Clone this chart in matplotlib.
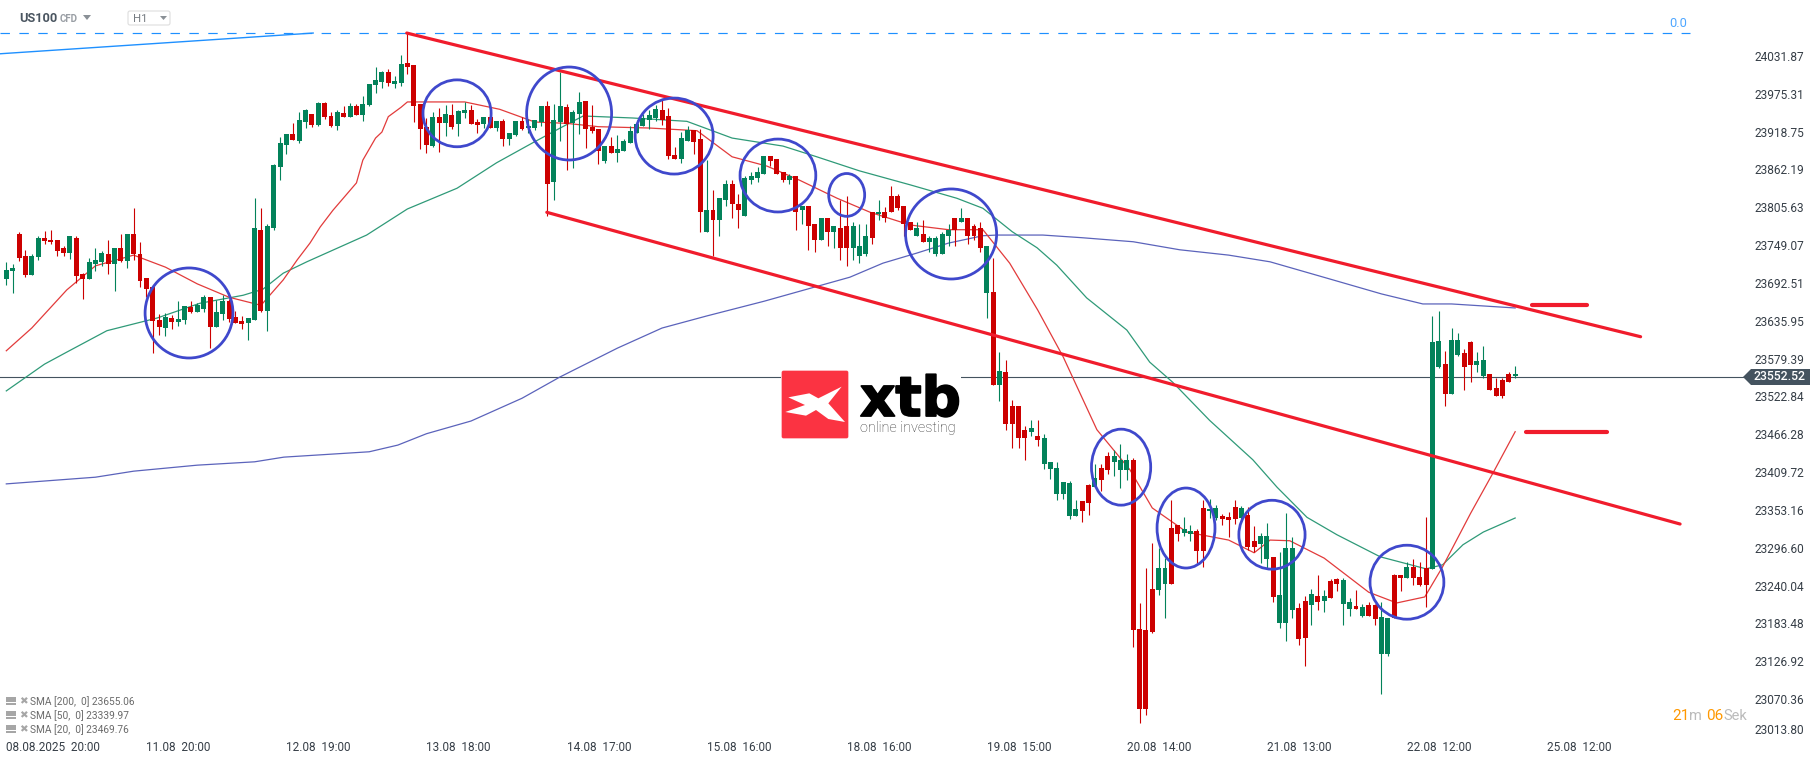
import matplotlib
matplotlib.use("Agg")
import numpy as np
import matplotlib.pyplot as plt
import matplotlib.patheffects as pe
from matplotlib.patches import Ellipse, Polygon, Rectangle, FancyBboxPatch
from matplotlib.transforms import Affine2D

plt.rcParams["font.family"] = ["Roboto", "DejaVu Sans"]

# one char per hourly bar, G = up candle, R = down candle
bar_colours = ("GGRRGGRRRRGRRGGGRGRGRRRRRGRGGRGGRGGRRRGGRGGGGRGGRGRRGRGRGGGGRGGRR"
               "RRGRGRGGRRGRGRGGRGGGRGGRGGRRRGRGGGGGGGRRRGGRRGRGGRRGGGGRRRGRGRRGRGRR"
               "GGGRGRRRRRGRGGGGRGRRRGRGRRRRGRGGGGGGRRGRRGGGRRRRGGRRGGRRGGRRRGRRGGRGGGRRGRGRRGGRGRRGGRRGRRRGGR")

highs = [23723,23720,23768,23741,23736,23762,23770,23772,23757,23748,
         23762,23763,23707,23730,23744,23740,23756,23745,23766,23765,
         23804,23753,23700,23688,23646,23648,23645,23666,23658,23666,
         23663,23675,23672,23667,23675,23669,23651,23643,23640,23820,
         23805,23781,23870,23910,23915,23931,23948,23952,23945,23963,
         23963,23948,23951,23957,23961,23960,23972,23990,24015,24009,
         24012,24002,24033,24066,24018,23960,23939,23948,23954,23958,
         23960,23951,23963,23958,23937,23940,23940,23934,23937,23916,
         23934,23940,23937,23936,23957,23964,23960,24008,23960,23951,
         23978,23964,23958,23922,23897,23910,23913,23907,23927,23936,
         23945,23951,23958,23966,23954,23895,23918,23927,23921,23922,
         23876,23832,23819,23846,23846,23826,23852,23859,23865,23882,
         23882,23877,23859,23856,23853,23807,23807,23780,23790,23790,
         23777,23817,23823,23783,23780,23781,23798,23817,23806,23838,
         23825,23808,23784,23784,23786,23763,23763,23768,23780,23789,
         23805,23790,23780,23783,23747,23729,23589,23577,23518,23509,
         23478,23488,23487,23467,23425,23425,23395,23397,23368,23367,
         23392,23422,23422,23440,23442,23452,23437,23431,23214,23266,
         23304,23296,23281,23368,23331,23343,23331,23325,23368,23370,
         23361,23347,23350,23368,23359,23358,23329,23319,23334,23283,
         23290,23349,23313,23214,23224,23235,23256,23233,23250,23251,
         23251,23221,23233,23212,23215,23212,23215,23191,23257,23256,
         23275,23279,23275,23343,23643,23650,23590,23625,23617,23593,
         23605,23589,23598,23557,23550,23551,23559,23568]

body_tops = [23712,23714,23765,23733,23733,23759,23759,23757,23756,23744,
             23762,23760,23706,23723,23726,23737,23736,23745,23745,23765,
             23765,23736,23700,23687,23637,23642,23640,23639,23658,23657,
             23660,23672,23672,23649,23666,23666,23642,23636,23640,23774,
             23772,23777,23868,23901,23915,23915,23936,23951,23945,23961,
             23961,23942,23948,23946,23957,23957,23960,23990,23996,24008,
             24008,23994,24020,24021,24018,23960,23925,23940,23940,23945,
             23943,23949,23951,23951,23933,23940,23940,23934,23934,23916,
             23934,23934,23927,23936,23957,23957,23936,23957,23955,23948,
             23963,23964,23925,23922,23897,23897,23892,23904,23919,23930,
             23939,23943,23952,23951,23942,23883,23909,23921,23921,23907,
             23801,23801,23819,23840,23841,23811,23849,23852,23858,23882,
             23882,23877,23859,23853,23853,23807,23807,23780,23789,23789,
             23777,23775,23778,23778,23748,23762,23798,23799,23798,23823,
             23823,23808,23784,23774,23766,23760,23760,23765,23772,23789,
             23789,23790,23777,23775,23747,23679,23561,23559,23508,23509,
             23473,23476,23464,23460,23425,23416,23395,23394,23355,23367,
             23391,23401,23416,23434,23434,23427,23428,23428,23175,23173,
             23235,23266,23266,23326,23331,23325,23322,23322,23356,23355,
             23356,23344,23343,23358,23356,23346,23307,23314,23314,23283,
             23226,23296,23296,23206,23217,23227,23224,23224,23247,23250,
             23248,23215,23209,23208,23211,23211,23193,23191,23256,23256,
             23268,23268,23253,23266,23604,23605,23571,23607,23607,23587,
             23604,23575,23577,23557,23536,23548,23556,23556]

body_bottoms = [23698,23710,23730,23705,23705,23731,23755,23753,23740,23737,
                23737,23703,23699,23698,23720,23723,23720,23720,23725,23725,
                23735,23696,23684,23636,23627,23625,23634,23634,23637,23649,
                23649,23654,23627,23627,23646,23639,23633,23631,23633,23637,
                23651,23651,23774,23865,23898,23906,23904,23933,23928,23928,
                23940,23927,23927,23940,23940,23943,23943,23958,23988,23993,
                23991,23990,23991,24015,23957,23922,23898,23897,23931,23931,
                23925,23930,23946,23930,23928,23930,23924,23924,23907,23907,
                23913,23922,23924,23924,23933,23841,23843,23933,23930,23931,
                23945,23922,23919,23889,23874,23886,23886,23889,23901,23916,
                23927,23936,23939,23936,23882,23877,23877,23904,23903,23799,
                23769,23786,23786,23816,23810,23802,23793,23846,23849,23855,
                23874,23855,23847,23847,23799,23801,23777,23757,23756,23768,
                23768,23745,23745,23745,23733,23735,23760,23795,23789,23799,
                23804,23780,23771,23763,23753,23753,23735,23735,23763,23771,
                23784,23763,23763,23744,23678,23540,23540,23481,23482,23461,
                23461,23470,23457,23422,23415,23377,23377,23344,23344,23352,
                23364,23388,23398,23413,23424,23413,23413,23173,23056,23056,
                23170,23233,23242,23242,23317,23319,23317,23292,23292,23352,
                23341,23340,23338,23340,23341,23298,23298,23302,23280,23223,
                23184,23184,23203,23160,23161,23211,23215,23217,23221,23242,
                23212,23205,23205,23194,23194,23190,23137,23137,23191,23251,
                23251,23251,23241,23241,23265,23566,23527,23526,23584,23566,
                23569,23569,23554,23533,23523,23523,23545,23553]

lows = [23690,23677,23725,23701,23705,23726,23750,23750,23733,23733,
        23728,23693,23668,23698,23710,23718,23706,23681,23723,23714,
        23726,23687,23671,23587,23615,23613,23624,23628,23631,23648,
        23649,23649,23595,23627,23637,23634,23633,23624,23607,23637,
        23649,23621,23772,23846,23885,23906,23901,23924,23925,23927,
        23937,23925,23921,23940,23940,23943,23934,23957,23976,23984,
        23987,23984,23987,24005,23933,23892,23886,23895,23888,23912,
        23922,23912,23939,23930,23916,23924,23924,23919,23897,23898,
        23912,23921,23916,23921,23927,23792,23816,23904,23862,23864,
        23915,23894,23916,23870,23871,23886,23873,23889,23901,23916,
        23927,23922,23934,23928,23877,23877,23871,23904,23885,23769,
        23769,23733,23763,23808,23790,23775,23793,23840,23844,23855,
        23867,23855,23844,23841,23771,23780,23742,23739,23756,23747,
        23745,23727,23718,23727,23722,23733,23750,23786,23784,23799,
        23802,23763,23771,23763,23753,23739,23732,23735,23748,23747,
        23783,23751,23756,23739,23640,23540,23516,23472,23446,23446,
        23427,23464,23449,23415,23400,23368,23370,23340,23344,23335,
        23346,23388,23382,23407,23404,23386,23398,23148,23035,23047,
        23169,23226,23191,23242,23307,23314,23307,23274,23268,23341,
        23338,23331,23313,23332,23338,23293,23290,23274,23266,23215,
        23176,23157,23191,23151,23119,23181,23203,23200,23221,23232,
        23181,23194,23205,23193,23194,23181,23078,23134,23191,23232,
        23251,23241,23239,23208,23265,23565,23508,23526,23583,23532,
        23545,23560,23550,23533,23523,23521,23544,23550]

sma20_bar = [0,4,9.5,14,20,25,30,35,40,43.5,45.7,47.7,49.3,51.3,55,56,58,59,60,62,63,66,72,77.5,83,88,93,101,108.5,114,
             119.5,124.6,130.5,135.7,142,148,153.4,157.6,162,166,171.3,176.5,180,185.4,192,196,198.5,201.6,207,214,
             218.4,222.8,225.6,230,233.5,237]
sma20 = [23591,23625,23682,23718,23734,23716,23691,23671,23659,23697,23727,23752,23776,23801,23842,23876,23909,23918,
         23941,23955,23963,23963,23963,23952,23933,23931,23926,23924,23920,23881,23867,23846,23819,23798,23779,23772,
         23772,23722,23652,23582,23473,23413,23356,23320,23308,23289,23308,23307,23281,23230,23214,23223,23268,23348,
         23408,23470]

sma50_bar = [0,3.3,6,9.5,15.8,23.7,30.4,37.2,40.3,43.5,47.2,56.6,63,70.8,77,82.7,87,90.6,98.4,106.9,114,122,127.3,
             134,142,149.3,153.4,158,161.9,165,169.7,176,179.6,183.2,189,195.8,199.6,204.3,209,215.8,223,225.6,228.8,232,237]
sma50 = [23531,23553,23571,23589,23621,23640,23662,23674,23683,23707,23724,23764,23803,23834,23872,23902,23924,23942,
         23939,23934,23909,23897,23881,23860,23839,23819,23804,23769,23745,23719,23670,23622,23574,23544,23487,23428,
         23387,23342,23316,23283,23265,23271,23301,23320,23341]

sma200_bar = [0,14,20,30,39,43.6,57,61.5,66,73,81,87,96,103,110,119,132.5,137.7,143,148,153.4,155.6,162.8,169,177,
              184.3,192,198.5,208,216,222.5,227,237]
sma200 = [23392,23402,23411,23420,23425,23432,23440,23450,23467,23486,23520,23552,23595,23625,23643,23665,23701,23722,
          23737,23752,23763,23764,23764,23760,23754,23742,23734,23724,23698,23676,23661,23661,23655]

# hand drawn channel lines, [start bar, end bar], [start price, end price]
upper_channel = ([62.9, 256.7], [24066, 23612])
lower_channel = ([84.9, 262.9], [23798, 23332])
resistance_mark = ([239.6, 248.3], [23659, 23659])
support_mark = ([238.7, 251.4], [23470, 23470])
fib_line = ([-1, 48.2], [24035, 24066])
fib_level = 24066
last_price = 23552.52

# blue circles on the chart
circle_bar = [28.7, 70.8, 88.4, 104.9, 121.2, 132, 148.4, 175.1, 185.3, 198.8, 220]
circle_price = [23647.5, 23946, 23945.7, 23912, 23853, 23824, 23765.6, 23417, 23326, 23316, 23245]
circle_w = [13.8, 10.7, 13.35, 12.25, 11.9, 5.65, 14.3, 9.3, 9.1, 10.4, 11.6]
circle_h = [134.6, 100, 139, 113.6, 109, 64, 134.6, 113.6, 119.6, 103, 110.6]

price_ticks = [24031.87,23975.31,23918.75,23862.19,23805.63,23749.07,23692.51,23635.95,23579.39,23522.84,
               23466.28,23409.72,23353.16,23296.60,23240.04,23183.48,23126.92,23070.36,23013.80]
time_ticks = [0, 22, 44, 66, 88, 110, 132, 154, 176, 198, 220, 242]
time_labels = ["08.08.2025  20:00", "11.08  20:00", "12.08  19:00", "13.08  18:00", "14.08  17:00", "15.08  16:00",
               "18.08  16:00", "19.08  15:00", "20.08  14:00", "21.08  13:00", "22.08  12:00", "25.08  12:00"]
sma_legend = ["SMA [200,  0] 23655.06", "SMA [50,  0] 23339.97", "SMA [20,  0] 23469.76"]

GREEN = "#03825a"
RED = "#cc0000"
TREND = "#f01c2c"
CIRCLE = "#3f48cc"
LINE = "#44535f"
TEXT = "#363e47"

fig = plt.figure(figsize=(18.15, 7.61), dpi=100)
ax = fig.add_axes([0, 24 / 761, 1745 / 1815, 737 / 761])
ax.set_xlim(-0.99, 273.1)
ax.set_ylim(23013.6, 24115.4)
for s in ax.spines.values():
    s.set_visible(False)

# pixel coordinates from the top left corner, for the widgets around the plot
px = Affine2D().scale(1, -1).translate(0, 761)

bars = np.arange(len(highs))
cols = [GREEN if c == "G" else RED for c in bar_colours]
tops = np.array(body_tops)
bottoms = np.array(body_bottoms)

ax.axhline(last_price, color=LINE, lw=0.8, zorder=1)
ax.plot([-0.99, 264.5], [fib_level, fib_level], color="#1e90ff", lw=0.85, linestyle=(0, (8, 8)), zorder=1)
ax.plot(*fib_line, color="#1e90ff", lw=1.0, zorder=1)
ax.text(264, fib_level + 4, "0.0", color="#4da6ff", fontsize=9.2, ha="right", va="bottom")

ax.plot(sma200_bar, sma200, color="#5b63bb", lw=0.9, zorder=2)
ax.plot(sma50_bar, sma50, color="#2f9a78", lw=0.9, zorder=2)
ax.plot(sma20_bar, sma20, color="#e23b3b", lw=0.9, zorder=2)

ax.vlines(bars, lows, highs, colors=cols, lw=0.8, zorder=3)
ax.bar(bars, tops - bottoms, bottom=bottoms, width=0.78, color=cols, linewidth=0, zorder=3)

for line in (upper_channel, lower_channel):
    ax.plot(*line, color=TREND, lw=2.3, solid_capstyle="round", zorder=4)
for line in (resistance_mark, support_mark):
    ax.plot(*line, color=TREND, lw=3.0, solid_capstyle="round", zorder=4)

for b, p, w, h in zip(circle_bar, circle_price, circle_w, circle_h):
    ax.add_patch(Ellipse((b, p), w, h, fill=False, edgecolor=CIRCLE, lw=2.0, zorder=5))

# axes
ax.yaxis.tick_right()
ax.set_yticks(price_ticks)
ax.set_yticklabels([f"{p:.2f}" for p in price_ticks])
ax.tick_params(axis="y", length=0, pad=7, labelsize=8.6, labelcolor=TEXT)
ax.get_yticklabels()[-1].set_verticalalignment("bottom")
ax.set_xticks(time_ticks)
ax.set_xticklabels(time_labels, ha="left")
ax.tick_params(axis="x", length=0, pad=3, labelsize=8.5, labelcolor=TEXT)

# last price flag
fig.add_artist(Polygon([(1743, 377), (1751, 369), (1810, 369), (1810, 385), (1751, 385)], closed=True,
                       facecolor=LINE, edgecolor="none", transform=px))
fig.text(1754, 377, f"{last_price:.2f}", transform=px, color="white", fontsize=8.8, fontweight="medium",
         ha="left", va="center")

# logo, white box hides the price line
fig.add_artist(Rectangle((781, 362), 180, 80, facecolor="white", edgecolor="none", transform=px))
fig.add_artist(FancyBboxPatch((782, 371), 66, 67, boxstyle="round,pad=0,rounding_size=1.5", facecolor="#fb3342",
                              edgecolor="#fb3342", lw=0.5, transform=px))
swoosh = [(85, 142), (148, 130), (175, 145), (245, 110), (205, 160), (255, 216), (205, 207), (168, 180), (138, 197),
          (76, 186), (135, 165)]
fig.add_artist(Polygon([(760 + a / 3, 350 + b / 3) for a, b in swoosh], closed=True, facecolor="white",
                       edgecolor="none", transform=px))
fig.text(860, 416, "xtb", transform=px, color="black", fontsize=39.5, fontweight="bold", family="DejaVu Sans",
         ha="left", va="baseline", path_effects=[pe.withStroke(linewidth=1.3, foreground="black")])
fig.text(860.5, 432, "online investing", transform=px, color="#333333", fontsize=10.4, fontweight="light",
         ha="left", va="baseline")

# top left instrument selector
fig.text(19, 18.5, "US100", transform=px, color="#4a5560", fontsize=9.2, fontweight="bold", va="center")
fig.text(60, 19.5, "CFD", transform=px, color="#9a9fa5", fontsize=7, fontweight="bold", va="center")
fig.add_artist(Polygon([(83, 15), (91, 15), (87, 20)], closed=True, facecolor="#8a9096", edgecolor="none", transform=px))
fig.add_artist(FancyBboxPatch((128, 11), 42, 14, boxstyle="round,pad=0,rounding_size=2", facecolor="white",
                              edgecolor="#dddddd", lw=0.8, transform=px))
fig.text(133, 19.5, "H1", transform=px, color="#767c82", fontsize=8.2, va="center")
fig.add_artist(Polygon([(160, 16), (167, 16), (163.5, 20)], closed=True, facecolor="#8a9096", edgecolor="none", transform=px))

# indicator legend, bottom left
for y, label in zip([701.5, 715.5, 729.5], sma_legend):
    fig.add_artist(Rectangle((6, y - 5), 10, 5, facecolor="#a6a6a6", edgecolor="none", transform=px))
    fig.add_artist(Rectangle((6, y + 1), 10, 2, facecolor="#a6a6a6", edgecolor="none", transform=px))
    fig.text(23.5, y, "\u2716", transform=px, color="#a6a6a6", fontsize=7.5, family="DejaVu Sans", ha="center", va="center")
    fig.text(30.5, y, label, transform=px, color="#6a6a6a", fontsize=7.3, va="center")

# candle countdown
fig.text(1672.7, 716, "21", transform=px, color="#ff9800", fontsize=11, va="center")
fig.text(1689, 716, "m", transform=px, color="#bbbbbb", fontsize=10.5, va="center")
fig.text(1706, 716, "06", transform=px, color="#ff9800", fontsize=11, va="center")
fig.text(1723, 716, "Sek", transform=px, color="#bbbbbb", fontsize=10.5, va="center")

fig.savefig("out.png", dpi=100, facecolor="white")
